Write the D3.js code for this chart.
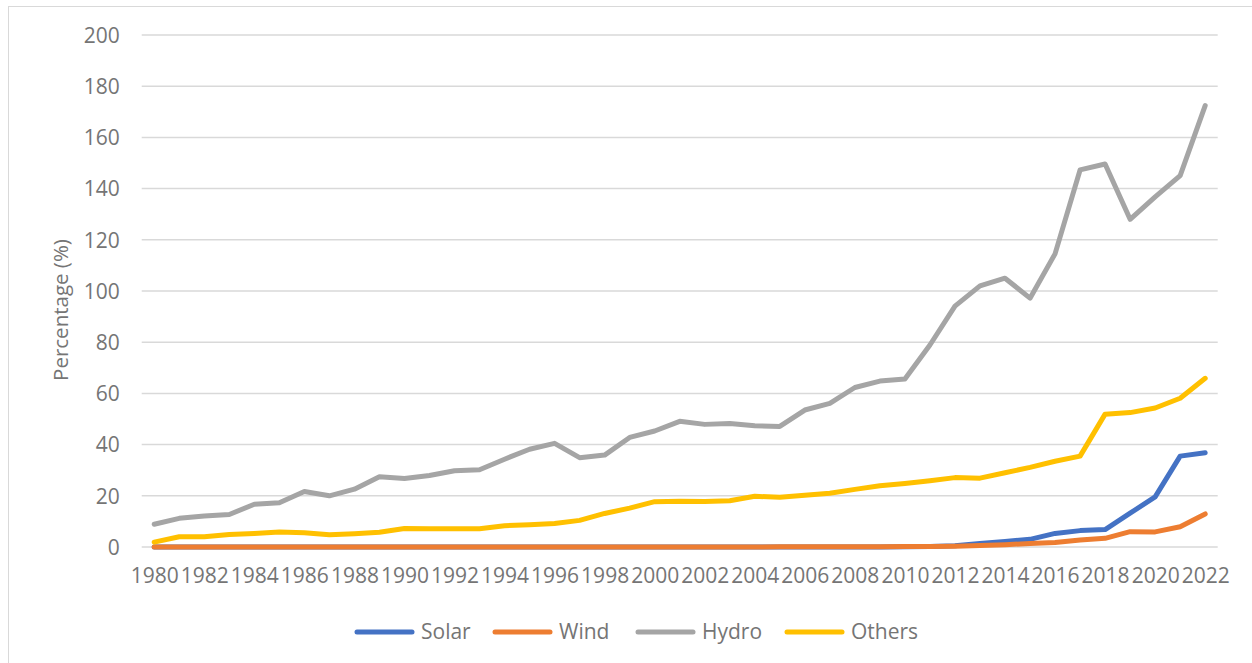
<!DOCTYPE html>
<html>
<head>
<meta charset="utf-8">
<script src="https://cdn.jsdelivr.net/npm/d3@7"></script>
<style>
  html, body { margin: 0; padding: 0; background: #fff; }
  svg { display: block; }
  text { font-family: "Open Sans", "Noto Sans", sans-serif; fill: #757575; }
</style>
</head>
<body>
<svg id="chart" width="1252" height="663"></svg>
<script>
// Annual values by source, 1980–2022 (%)
const years = d3.range(1980, 2023);
const solar = [0,0,0,0,0,0,0,0,0,0, 0,0,0,0,0,0,0,0,0,0, 0,0,0,0,0,0,0,0,0,0,
               0.1,0.2,0.5,1.4,2.2,3.0,5.3,6.4,6.8,13.2,19.6,35.5,36.8];
const wind  = [0,0,0,0,0,0,0,0,0,0, 0,0,0,0,0,0,0,0,0,0, 0,0,0,0,0,0.1,0.1,0.1,0.1,0.1,
               0.2,0.2,0.3,0.6,0.9,1.4,1.8,2.7,3.4,6.0,5.9,7.9,12.9];
const hydro = [8.9,11.2,12.1,12.7,16.7,17.3,21.7,20.0,22.6,27.4,
               26.8,27.9,29.8,30.2,34.3,38.2,40.5,34.9,35.9,42.8,
               45.3,49.1,47.9,48.2,47.4,47.1,53.5,56.1,62.3,64.8,
               65.6,78.9,94.1,102.0,105.0,97.2,114.5,147.3,149.6,128.0,
               136.8,145.1,172.4];
const others = [1.9,4.0,4.0,4.9,5.3,5.9,5.6,4.8,5.2,5.8,
                7.2,7.1,7.1,7.1,8.3,8.7,9.2,10.4,13.1,15.2,
                17.7,17.9,17.8,18.1,19.8,19.4,20.2,21.0,22.5,23.9,
                24.8,25.9,27.1,26.9,29.0,31.1,33.5,35.5,51.9,52.5,
                54.3,58.1,65.9];
const yTicks = [0, 20, 40, 60, 80, 100, 120, 140, 160, 180, 200];
const xTickYears = years.filter(y => y % 2 === 0);

const seriesNames  = ["Solar", "Wind", "Hydro", "Others"];
const seriesValues = [solar, wind, hydro, others];
const seriesColors = ["#4472C4", "#ED7D31", "#A5A5A5", "#FFC000"];

const svg = d3.select("#chart");

// chart frame
svg.append("rect")
  .attr("x", 8.5).attr("y", 6.5)
  .attr("width", 1260).attr("height", 680)
  .attr("fill", "none").attr("stroke", "#d9d9d9").attr("stroke-width", 1);

const plot = { left: 141.7, right: 1217.7, top: 35, bottom: 547 };

const x = d3.scalePoint().domain(years).range([plot.left, plot.right]).padding(0.5);
const y = d3.scaleLinear().domain([0, 200]).range([plot.bottom, plot.top]);

// horizontal gridlines
svg.append("g")
  .selectAll("line")
  .data(yTicks)
  .join("line")
  .attr("x1", plot.left).attr("x2", plot.right)
  .attr("y1", d => y(d)).attr("y2", d => y(d))
  .attr("stroke", "#d9d9d9").attr("stroke-width", 1.5);

// y axis labels
const yAxis = svg.append("g")
  .attr("transform", `translate(${plot.left - 22},0)`)
  .call(d3.axisLeft(y).tickValues(yTicks).tickSize(0).tickPadding(0));
yAxis.select(".domain").remove();
yAxis.selectAll("text")
  .attr("font-size", 21)
  .attr("font-family", "Open Sans, Noto Sans, sans-serif")
  .attr("fill", "#757575")
  .attr("dy", "0.35em");

// x axis labels (every second year)
const xAxis = svg.append("g")
  .attr("transform", `translate(0,${plot.bottom + 21})`)
  .call(d3.axisBottom(x).tickValues(xTickYears).tickSize(0).tickPadding(0));
xAxis.select(".domain").remove();
xAxis.selectAll("text")
  .attr("font-size", 21)
  .attr("font-family", "Open Sans, Noto Sans, sans-serif")
  .attr("fill", "#757575")
  .attr("dy", "0.71em");

// y axis title
svg.append("text")
  .attr("transform", `translate(68,310) rotate(-90)`)
  .attr("text-anchor", "middle")
  .attr("font-size", 20.5)
  .text("Percentage (%)");

// series lines
const line = d3.line()
  .x((d, i) => x(years[i]))
  .y(d => y(d));

svg.append("g")
  .selectAll("path")
  .data(seriesValues)
  .join("path")
  .attr("d", d => line(d))
  .attr("fill", "none")
  .attr("stroke", (d, i) => seriesColors[i])
  .attr("stroke-width", 5)
  .attr("stroke-linejoin", "round")
  .attr("stroke-linecap", "round");

// legend
const legendX = [357, 495, 638, 787];
const legend = svg.append("g")
  .selectAll("g")
  .data(seriesNames)
  .join("g")
  .attr("transform", (d, i) => `translate(${legendX[i]},632)`);
legend.append("line")
  .attr("x1", 0).attr("x2", 55)
  .attr("stroke", (d, i) => seriesColors[i])
  .attr("stroke-width", 5)
  .attr("stroke-linecap", "round");
legend.append("text")
  .attr("x", 64)
  .attr("dy", "0.35em")
  .attr("font-size", 21)
  .text(d => d);
</script>
</body>
</html>
